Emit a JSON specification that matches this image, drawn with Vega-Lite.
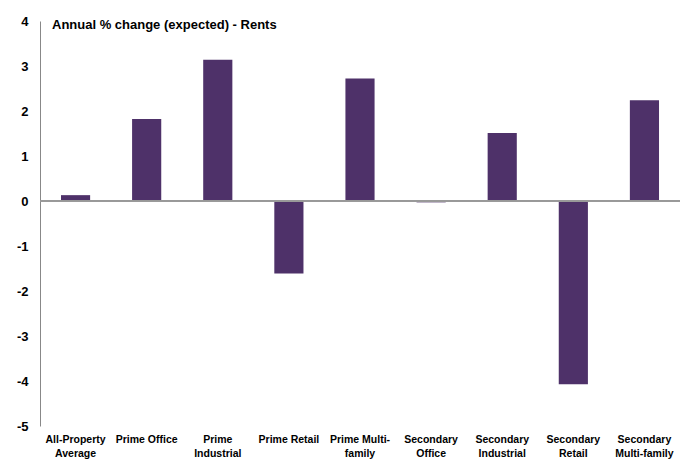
{
  "$schema": "https://vega.github.io/schema/vega-lite/v6.json",
  "width": 640,
  "height": 405,
  "autosize": "none",
  "padding": {"left": 40, "top": 21, "right": 8, "bottom": 35},
  "background": "white",
  "config": {"view": {"stroke": null}, "font": "Liberation Sans"},
  "title": {
    "text": "Annual % change (expected) - Rents",
    "anchor": "start",
    "frame": "group",
    "orient": "top",
    "offset": -17,
    "dx": 12,
    "fontSize": 13,
    "fontWeight": "bold",
    "font": "Liberation Sans",
    "color": "#000000"
  },
  "data": {
    "values": [
      {"cat": "All-Property|Average", "value": 0.13},
      {"cat": "Prime Office", "value": 1.82},
      {"cat": "Prime|Industrial", "value": 3.14},
      {"cat": "Prime Retail", "value": -1.61},
      {"cat": "Prime Multi-|family", "value": 2.72},
      {"cat": "Secondary|Office", "value": -0.03},
      {"cat": "Secondary|Industrial", "value": 1.51},
      {"cat": "Secondary|Retail", "value": -4.07},
      {"cat": "Secondary|Multi-family", "value": 2.24}
    ]
  },
  "layer": [
    {
      "mark": {"type": "bar", "color": "#4E3169"},
      "encoding": {
        "x": {
          "field": "cat",
          "type": "nominal",
          "sort": null,
          "scale": {"paddingInner": 0.59, "paddingOuter": 0.295},
          "axis": {
            "title": null,
            "labelAngle": 0,
            "domain": false,
            "ticks": false,
            "labelPadding": 8,
            "labelExpr": "split(datum.label, '|')",
            "labelFont": "Liberation Sans",
            "labelFontSize": 10.5,
            "labelFontWeight": "bold",
            "labelColor": "#000000",
            "labelLineHeight": 14
          }
        },
        "y": {
          "field": "value",
          "type": "quantitative",
          "scale": {"domain": [-5, 4], "nice": false},
          "axis": {
            "title": null,
            "values": [-5, -4, -3, -2, -1, 0, 1, 2, 3, 4],
            "labelExpr": "toString(datum.value)",
            "grid": false,
            "ticks": false,
            "domainColor": "#888888",
            "labelPadding": 12,
            "labelFont": "Liberation Sans",
            "labelFontSize": 13,
            "labelFontWeight": "bold",
            "labelColor": "#000000"
          }
        }
      }
    },
    {
      "mark": {"type": "rule", "color": "#999999", "strokeWidth": 1},
      "encoding": {"y": {"datum": 0}}
    }
  ]
}
